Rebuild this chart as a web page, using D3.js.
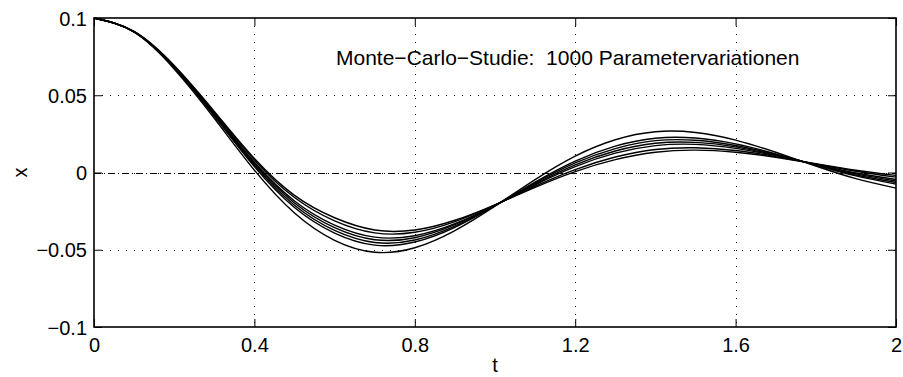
<!DOCTYPE html>
<html>
<head>
<meta charset="utf-8">
<script src="https://cdn.jsdelivr.net/npm/d3@7"></script>
<style>
  html, body { margin: 0; padding: 0; background: #fff; }
  svg { display: block; }
  text { font-family: "Liberation Sans", Arial, Helvetica, sans-serif; fill: #000; }
</style>
</head>
<body>
<svg id="chart" width="903" height="377"></svg>
<script>
// ---- data ----
const tValues = [0, 0.1, 0.2, 0.3, 0.4, 0.5, 0.6, 0.7, 0.8, 0.9, 1.0,
                 1.1, 1.2, 1.3, 1.4, 1.5, 1.6, 1.7, 1.8, 1.9, 2.0];

const runA = [0.1, 0.0908, 0.0670, 0.0351, 0.0015, -0.0262, -0.0439, -0.0516, -0.0487, -0.0376, -0.0218,
              -0.0046, 0.0106, 0.0212, 0.0264, 0.0259, 0.0210, 0.0131, 0.0042, -0.0040, -0.0101];
const runB = [0.1, 0.0910, 0.0677, 0.0365, 0.0038, -0.0226, -0.0392, -0.0470, -0.0450, -0.0355, -0.0215,
              -0.0062, 0.0074, 0.0171, 0.0222, 0.0223, 0.0185, 0.0121, 0.0047, -0.0022, -0.0075];
const runC = [0.1, 0.0910, 0.0680, 0.0370, 0.0047, -0.0212, -0.0375, -0.0453, -0.0437, -0.0347, -0.0214,
              -0.0068, 0.0062, 0.0155, 0.0206, 0.0209, 0.0175, 0.0117, 0.0049, -0.0016, -0.0065];
const runD = [0.1, 0.0911, 0.0682, 0.0376, 0.0057, -0.0197, -0.0357, -0.0435, -0.0422, -0.0338, -0.0213,
              -0.0074, 0.0050, 0.0139, 0.0189, 0.0195, 0.0166, 0.0113, 0.0050, -0.0009, -0.0055];
const runE = [0.1, 0.0911, 0.0685, 0.0381, 0.0066, -0.0184, -0.0340, -0.0418, -0.0409, -0.0331, -0.0212,
              -0.0080, 0.0038, 0.0125, 0.0174, 0.0182, 0.0156, 0.0109, 0.0052, -0.0003, -0.0045];
const runF = [0.1, 0.0912, 0.0689, 0.0389, 0.0080, -0.0162, -0.0313, -0.0391, -0.0387, -0.0318, -0.0210,
              -0.0089, 0.0019, 0.0100, 0.0149, 0.0160, 0.0142, 0.0103, 0.0055, 0.0008, -0.0030];
const runG = [0.1, 0.0913, 0.0692, 0.0395, 0.0090, -0.0148, -0.0293, -0.0372, -0.0372, -0.0309, -0.0209,
              -0.0096, 0.0006, 0.0083, 0.0131, 0.0145, 0.0131, 0.0099, 0.0057, 0.0015, -0.0019];

const runs = [runA, runB, runC, runD, runE, runF, runG];

const xTicks = [0, 0.4, 0.8, 1.2, 1.6, 2];
const xTickLabels = ["0", "0.4", "0.8", "1.2", "1.6", "2"];
const yTicks = [-0.1, -0.05, 0, 0.05, 0.1];
const yTickLabels = ["\u22120.1", "\u22120.05", "0", "0.05", "0.1"];
const gridX = [0.4, 0.8, 1.2, 1.6];
const gridY = [-0.05, 0, 0.05];

const titleText = "Monte\u2212Carlo\u2212Studie:  1000 Parametervariationen";
const xLabel = "t";
const yLabel = "x";

// ---- layout ----
const L = 94, R = 896, T = 18, B = 327;
const svg = d3.select("#chart");
const x = d3.scaleLinear().domain([0, 2]).range([L, R]);
const y = d3.scaleLinear().domain([-0.1, 0.1]).range([B, T]);
const FS = 20;

// grid (dotted)
const grid = svg.append("g").attr("stroke", "#000").attr("stroke-width", 1)
  .attr("stroke-dasharray", "1,7").attr("fill", "none");
grid.selectAll("line.gx").data(gridX).join("line").attr("class", "gx")
  .attr("x1", d => Math.round(x(d)) + 0.5).attr("x2", d => Math.round(x(d)) + 0.5)
  .attr("y1", T).attr("y2", B);
grid.selectAll("line.gy").data(gridY).join("line").attr("class", "gy")
  .attr("x1", L).attr("x2", R)
  .attr("y1", d => Math.round(y(d)) + 0.5).attr("y2", d => Math.round(y(d)) + 0.5);

// dash-dot zero reference line
svg.append("line")
  .attr("x1", L).attr("x2", R)
  .attr("y1", Math.round(y(0)) + 0.5).attr("y2", Math.round(y(0)) + 0.5)
  .attr("stroke", "#000").attr("stroke-width", 1)
  .attr("stroke-dasharray", "7,3,1,3");

// curves
const line = d3.line()
  .x((d, i) => x(tValues[i]))
  .y(d => y(d))
  .curve(d3.curveNatural);
svg.append("g").selectAll("path").data(runs).join("path")
  .attr("d", d => line(d))
  .attr("fill", "none").attr("stroke", "#000").attr("stroke-width", 1.4);

// axes (ticks inside on all four sides)
const tickLen = 8;
function styleAxis(g) {
  g.select(".domain").remove();
  g.selectAll(".tick line").attr("stroke", "#000").attr("stroke-width", 1);
  g.selectAll(".tick text").style("font-size", FS + "px")
    .style("font-family", '"Liberation Sans", Arial, Helvetica, sans-serif');
}
const axB = svg.append("g").attr("transform", `translate(0,${B})`)
  .call(d3.axisBottom(x).tickValues(xTicks).tickSize(-tickLen).tickPadding(11)
        .tickFormat((d, i) => xTickLabels[i]));
styleAxis(axB);
const axT = svg.append("g").attr("transform", `translate(0,${T})`)
  .call(d3.axisTop(x).tickValues(xTicks).tickSize(-tickLen).tickFormat(""));
styleAxis(axT);
const axL = svg.append("g").attr("transform", `translate(${L},0)`)
  .call(d3.axisLeft(y).tickValues(yTicks).tickSize(-tickLen).tickPadding(7)
        .tickFormat((d, i) => yTickLabels[i]));
styleAxis(axL);
const axR = svg.append("g").attr("transform", `translate(${R},0)`)
  .call(d3.axisRight(y).tickValues(yTicks).tickSize(-tickLen).tickFormat(""));
styleAxis(axR);
axL.selectAll(".tick text").attr("dy", "0.35em");

// frame
svg.append("rect").attr("x", L).attr("y", T).attr("width", R - L).attr("height", B - T)
  .attr("fill", "none").attr("stroke", "#000").attr("stroke-width", 1.6);

// labels
svg.append("text").attr("x", 336).attr("y", 65).style("font-size", "21px")
  .attr("xml:space", "preserve").style("white-space", "pre").text(titleText);
svg.append("text").attr("x", (L + R) / 2).attr("y", 372).attr("text-anchor", "middle")
  .style("font-size", FS + "px").text(xLabel);
svg.append("text").attr("transform", `translate(27,${y(0)}) rotate(-90)`)
  .attr("text-anchor", "middle").style("font-size", FS + "px").text(yLabel);
</script>
</body>
</html>
